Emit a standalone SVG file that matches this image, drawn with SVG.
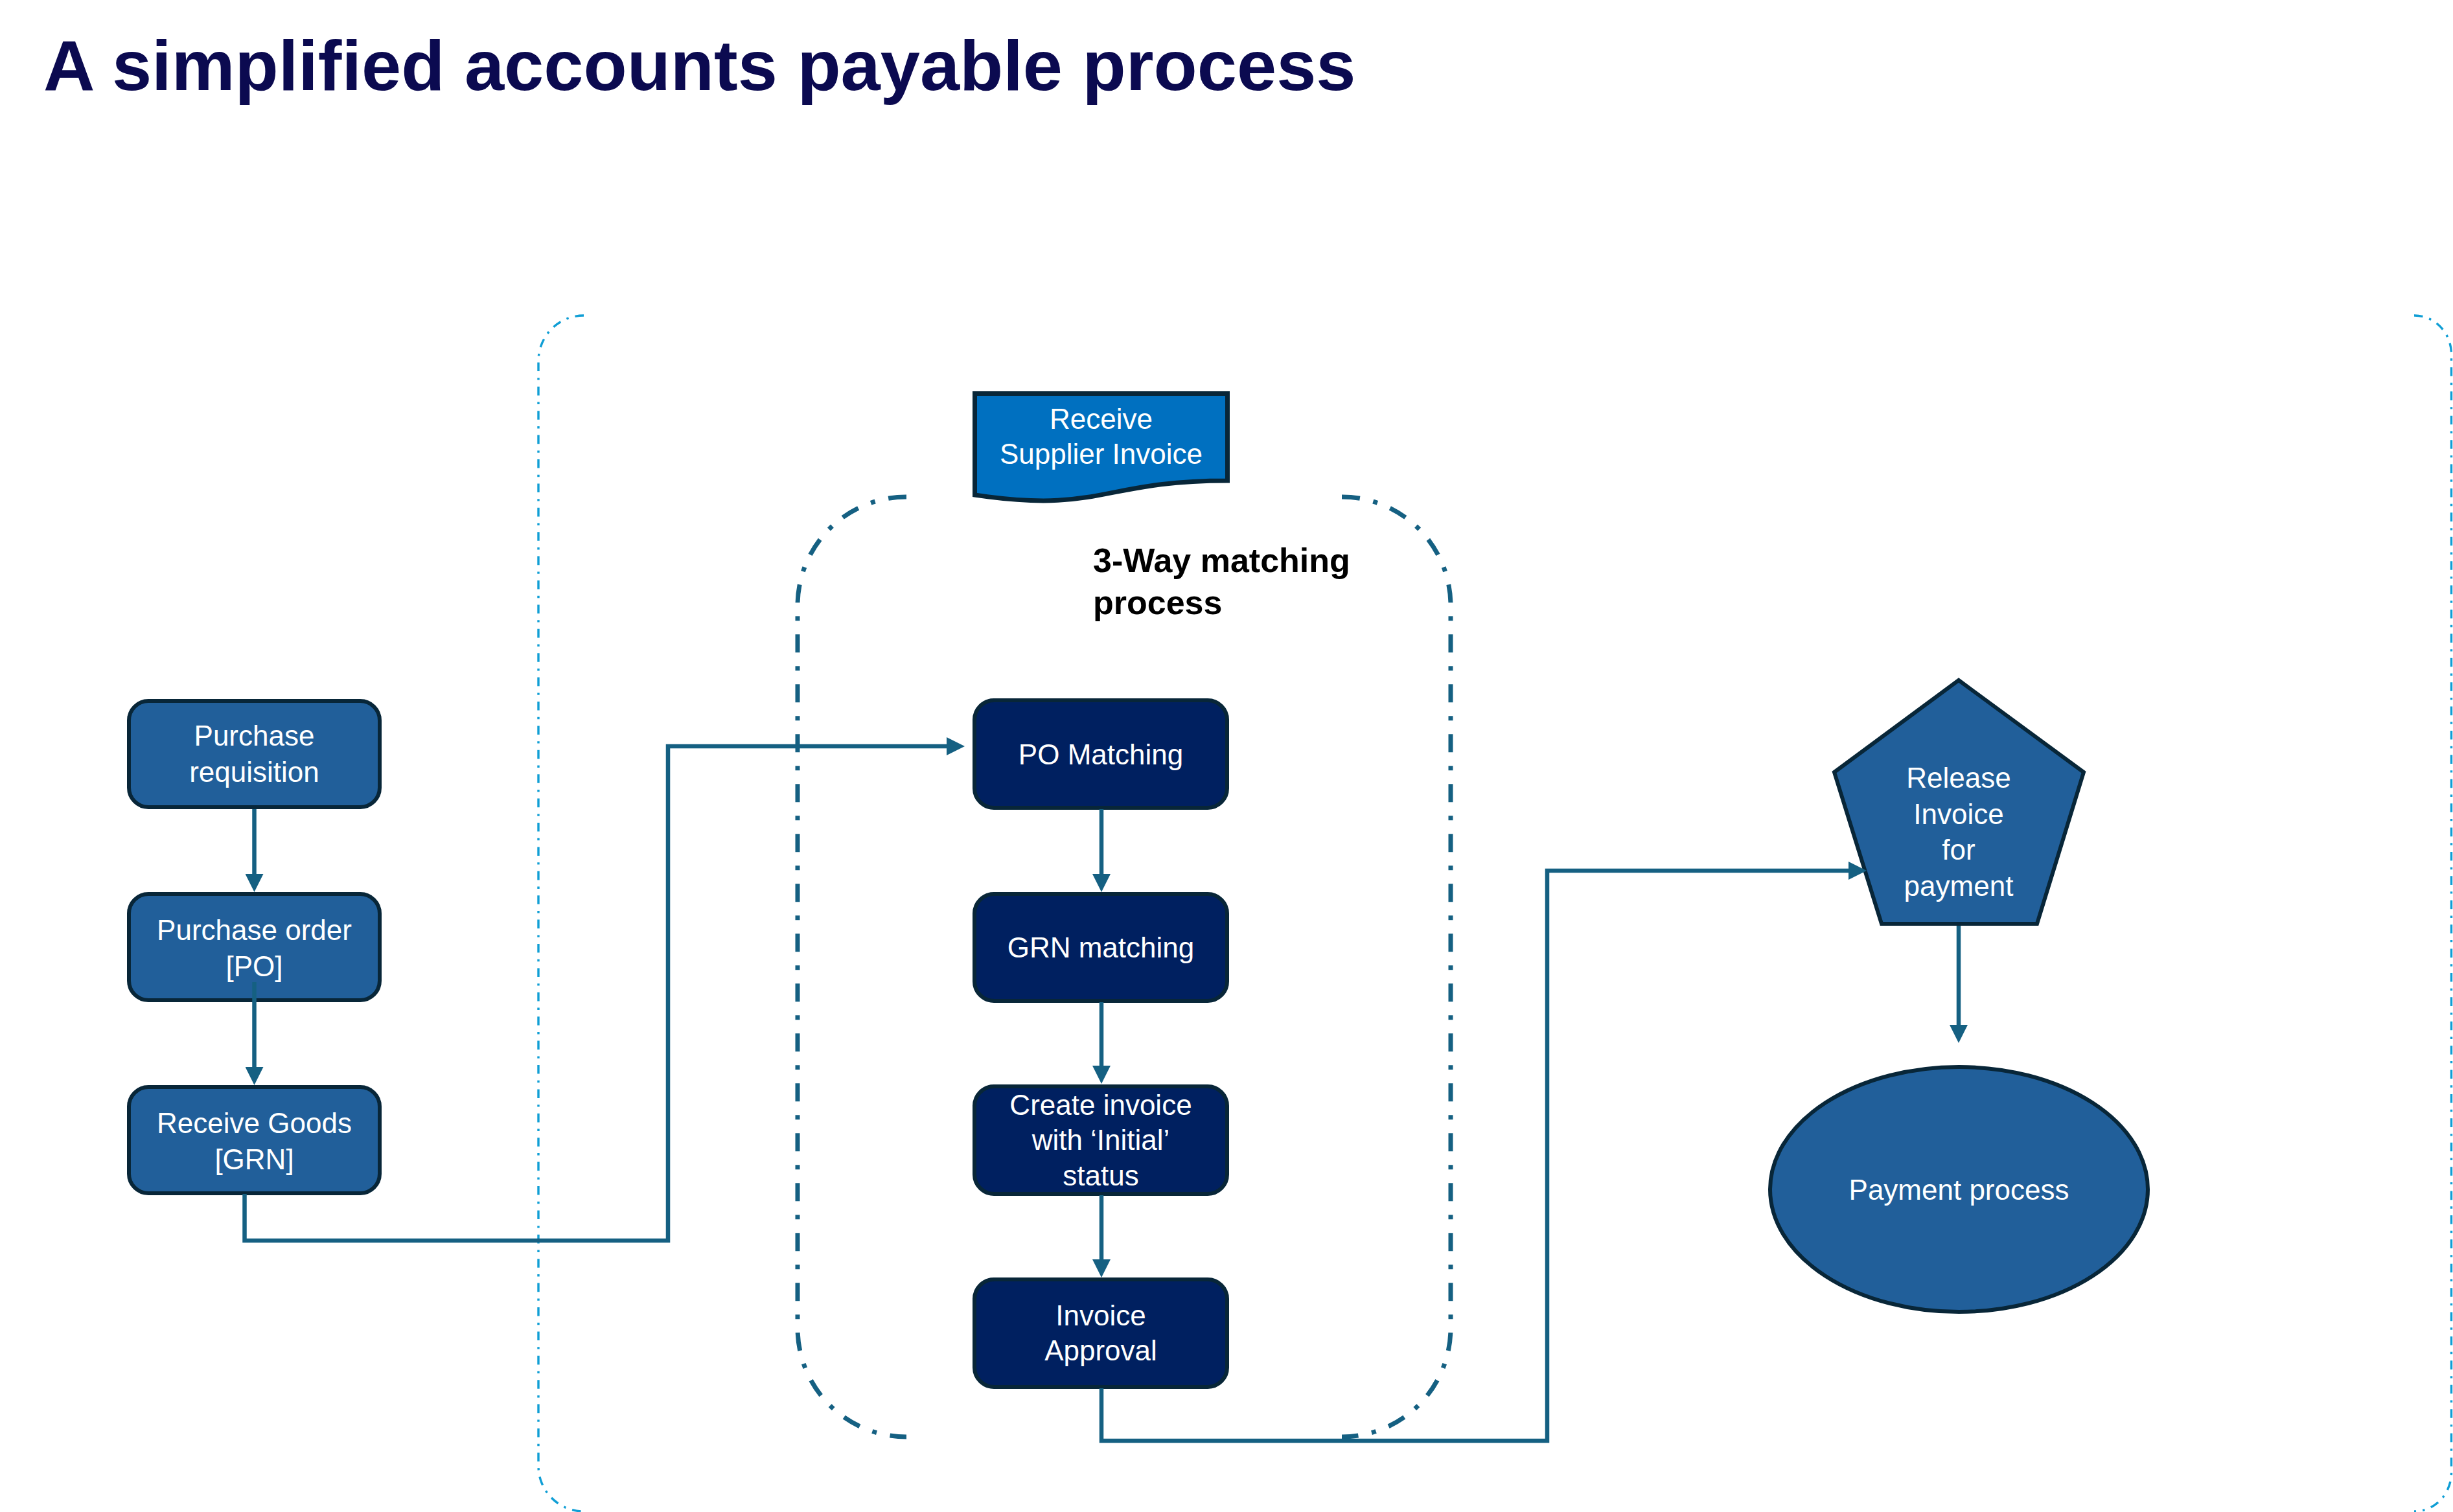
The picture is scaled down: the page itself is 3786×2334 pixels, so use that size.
<svg xmlns="http://www.w3.org/2000/svg" width="3786" height="2334" viewBox="0 0 3786 2334">
  <style>
    .title { font-family: "Liberation Sans", Arial, sans-serif; font-weight: bold; font-size: 110px; fill: #0B0A50; }
    .lbl { font-family: "Liberation Sans", Arial, sans-serif; font-size: 44px; fill: #FFFFFF; text-anchor: middle; }
    .grp { font-family: "Liberation Sans", Arial, sans-serif; font-weight: bold; font-size: 52px; fill: #000000; }
    .box-light { fill: #215F9A; stroke: #082638; stroke-width: 6; }
    .box-dark { fill: #002060; stroke: #082638; stroke-width: 6; }
    .doc { fill: #0070C0; stroke: #082638; stroke-width: 7; }
    .conn { fill: none; stroke: #156082; stroke-width: 6.5; marker-end: url(#arrow); }
    .outer { fill: none; stroke: #0F9ED5; stroke-width: 3.4; stroke-dasharray: 13.6 10.2 3.4 10.2; }
    .inner { fill: none; stroke: #156082; stroke-width: 7; stroke-dasharray: 28 21 7 21; }
  </style>
  <defs>
    <marker id="arrow" markerUnits="userSpaceOnUse" viewBox="0 0 28 28" markerWidth="28" markerHeight="28" refX="20" refY="14" orient="auto">
      <path d="M0,0 L28,14 L0,28 Z" fill="#156082"/>
    </marker>
  </defs>
  <rect x="0" y="0" width="3786" height="2334" fill="#FFFFFF"/>

  <text class="title" x="67" y="139">A simplified accounts payable process</text>

  <g id="outer-bracket">
    <path class="outer" d="M901,487 A70,70 0 0 0 831,557 V2263 A70,70 0 0 0 901,2333"/>
    <path class="outer" d="M3726,487 A57,60 0 0 1 3783.5,547 V2273 A57,60 0 0 1 3726,2333"/>
  </g>

  <g id="three-way-bracket">
    <path class="inner" d="M1399,767 A168,168 0 0 0 1231,935 V2050 A168,168 0 0 0 1399,2218"/>
    <path class="inner" d="M2071,767 A168,168 0 0 1 2239,935 V2050 A168,168 0 0 1 2071,2218"/>
    <text class="grp" x="1687" y="883">3-Way matching</text>
    <text class="grp" x="1687" y="948">process</text>
  </g>

  <g id="purchase-requisition">
    <rect class="box-light" x="199" y="1082" width="387" height="164" rx="30" ry="30"/>
    <text class="lbl" x="392.5" y="1151">Purchase</text>
    <text class="lbl" x="392.5" y="1207">requisition</text>
  </g>
  <g id="purchase-order">
    <rect class="box-light" x="199" y="1380" width="387" height="164" rx="30" ry="30"/>
    <text class="lbl" x="392.5" y="1451">Purchase order</text>
    <text class="lbl" x="392.5" y="1507">[PO]</text>
  </g>
  <g id="receive-goods">
    <rect class="box-light" x="199" y="1678" width="387" height="164" rx="30" ry="30"/>
    <text class="lbl" x="392.5" y="1749">Receive Goods</text>
    <text class="lbl" x="392.5" y="1805">[GRN]</text>
  </g>

  <g id="receive-supplier-invoice">
    <path class="doc" d="M1504.5,607.5 L1894.5,607.5 L1894.5,742 C1699.5,742 1699.5,793 1504.5,764 Z"/>
    <text class="lbl" x="1699.5" y="662">Receive</text>
    <text class="lbl" x="1699.5" y="716">Supplier Invoice</text>
  </g>

  <g id="po-matching">
    <rect class="box-dark" x="1504" y="1081" width="390" height="166" rx="30" ry="30"/>
    <text class="lbl" x="1699" y="1180">PO Matching</text>
  </g>
  <g id="grn-matching">
    <rect class="box-dark" x="1504" y="1380" width="390" height="165" rx="30" ry="30"/>
    <text class="lbl" x="1699" y="1478">GRN matching</text>
  </g>
  <g id="create-invoice">
    <rect class="box-dark" x="1504" y="1677" width="390" height="166" rx="30" ry="30"/>
    <text class="lbl" x="1699" y="1721">Create invoice</text>
    <text class="lbl" x="1699" y="1775">with ‘Initial’</text>
    <text class="lbl" x="1699" y="1830">status</text>
  </g>
  <g id="invoice-approval">
    <rect class="box-dark" x="1504" y="1975" width="390" height="166" rx="30" ry="30"/>
    <text class="lbl" x="1699" y="2046">Invoice</text>
    <text class="lbl" x="1699" y="2100">Approval</text>
  </g>

  <g id="release-invoice">
    <polygon class="box-light" points="3023,1050 3216,1192 3144,1426 2904,1426 2831,1192"/>
    <text class="lbl" x="3023" y="1216">Release</text>
    <text class="lbl" x="3023" y="1272">Invoice</text>
    <text class="lbl" x="3023" y="1327">for</text>
    <text class="lbl" x="3023" y="1383">payment</text>
  </g>

  <g id="payment-process">
    <ellipse class="box-light" cx="3023.5" cy="1836" rx="291.5" ry="189"/>
    <text class="lbl" x="3023.5" y="1852">Payment process</text>
  </g>

  <g id="connectors">
    <path class="conn" d="M392.5,1249 L392.5,1369"/>
    <path class="conn" d="M392.5,1516 L392.5,1667"/>
    <path class="conn" d="M377.5,1843 V1915 H1031 V1152 H1481"/>
    <path class="conn" d="M1700,1249 V1369"/>
    <path class="conn" d="M1700,1547 V1665"/>
    <path class="conn" d="M1700,1845 V1964"/>
    <path class="conn" d="M1700,2143 V2224 H2388 V1344 H2873"/>
    <path class="conn" d="M3023,1429 V1602"/>
  </g>
</svg>
